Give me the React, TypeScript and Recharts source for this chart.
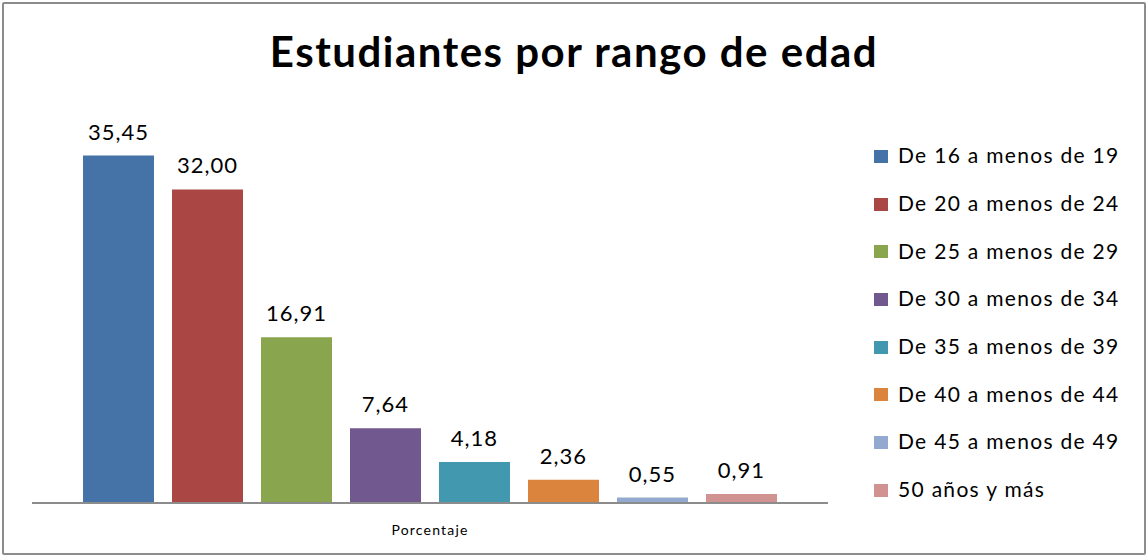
import { BarChart, Bar, XAxis, YAxis, LabelList } from 'recharts';

const seriesNames = [
  'De 16 a menos de 19',
  'De 20 a menos de 24',
  'De 25 a menos de 29',
  'De 30 a menos de 34',
  'De 35 a menos de 39',
  'De 40 a menos de 44',
  'De 45 a menos de 49',
  '50 años y más',
];
const seriesValues = [35.45, 32.0, 16.91, 7.64, 4.18, 2.36, 0.55, 0.91];
const seriesColors = [
  '#4572A7',
  '#AA4643',
  '#89A54E',
  '#71588F',
  '#4198AF',
  '#DB843D',
  '#93A9CF',
  '#D19392',
];
const category = 'Porcentaje';

const row: Record<string, string | number> = { name: category };
seriesValues.forEach((v, i) => {
  row['s' + i] = v;
});
const data = [row];

const font = 'Lato, "Open Sans", sans-serif';

const fmt = (v: any) => Number(v).toFixed(2).replace('.', ',');

// legend drawn beside the plot so it doesn't shrink the plot area
const LegendBox = () => (
  <div
    style={{
      position: 'absolute',
      left: 874,
      top: 131,
      fontFamily: font,
      fontSize: 21,
      letterSpacing: 1.3,
      color: '#000',
    }}
  >
    {seriesNames.map((n, i) => (
      <div key={n} style={{ height: 47.7, display: 'flex', alignItems: 'center' }}>
        <span
          style={{
            width: 14,
            height: 13,
            background: seriesColors[i],
            display: 'inline-block',
            marginRight: 10,
            marginTop: 3,
          }}
        />
        {n}
      </div>
    ))}
  </div>
);

export default function App() {
  return (
    <div
      style={{
        position: 'absolute',
        left: 0,
        top: 0,
        width: 1148,
        height: 557,
        background: '#fff',
      }}
    >
      <div
        style={{
          position: 'absolute',
          left: 2,
          top: 2,
          width: 1140,
          height: 549,
          border: '2px solid #8c8c8c',
          borderRadius: 2,
        }}
      />
      <div
        style={{
          position: 'absolute',
          left: 0,
          top: 26,
          width: 1148,
          textAlign: 'center',
          fontFamily: font,
          fontWeight: 700,
          fontSize: 42,
          letterSpacing: 1.5,
          color: '#000',
        }}
      >
        Estudiantes por rango de edad
      </div>
      <div style={{ position: 'absolute', left: 0, top: 0 }}>
        <BarChart
          width={1148}
          height={557}
          data={data}
          margin={{ top: 111, right: 320, left: 32, bottom: 0 }}
          barCategoryGap={51}
          barGap={18}
        >
          <YAxis hide domain={[0, 40]} />
          <XAxis
            dataKey="name"
            height={54}
            tickLine={false}
            axisLine={{ stroke: '#8c8c8c', strokeWidth: 2 }}
            tick={{ fontFamily: font, fontSize: 14, fill: '#000', letterSpacing: 1.2 }}
            dy={14}
          />
          {seriesNames.map((n, i) => (
            <Bar
              key={n}
              dataKey={'s' + i}
              name={n}
              fill={seriesColors[i]}
              isAnimationActive={false}
            >
              <LabelList
                dataKey={'s' + i}
                position="top"
                offset={16}
                formatter={fmt}
                style={{ fontFamily: font, fontSize: 22, fill: '#000', letterSpacing: 1 }}
              />
            </Bar>
          ))}
        </BarChart>
      </div>
      <LegendBox />
    </div>
  );
}
